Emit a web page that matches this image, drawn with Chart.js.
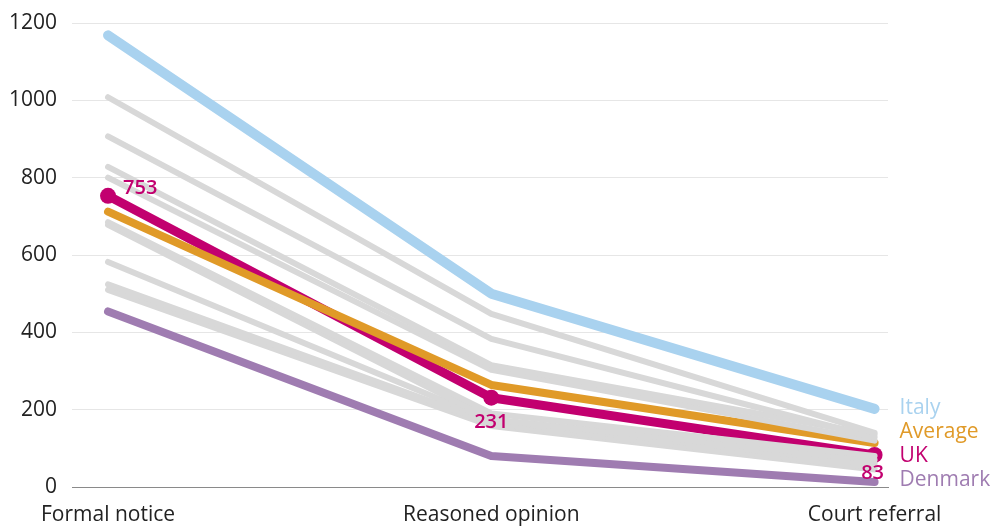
<!DOCTYPE html>
<html>
<head>
<meta charset="utf-8">
<script src="https://cdn.jsdelivr.net/npm/chart.js@4/dist/chart.umd.min.js"></script>
<style>
  html, body { margin: 0; padding: 0; background: #ffffff; }
  #wrap { width: 994px; height: 527px; position: relative; }
</style>
</head>
<body>
<div id="wrap"><canvas id="chart"></canvas></div>
<script>
// Infringement procedure stages
const stages = ['Formal notice', 'Reasoned opinion', 'Court referral'];

// Highlighted series
const italy   = [1168, 500, 202];
const average = [712, 264, 114];
const uk      = [753, 231, 83];
const denmark = [454, 80, 13];

// Other member states (grey background lines)
const others = [
  [1008, 448, 140],
  [907, 383, 128],
  [828, 315, 135],
  [800, 303, 120],
  [685, 190, 80],
  [678, 175, 70],
  [582, 172, 60],
  [524, 165, 50],
  [510, 158, 45]
];

const yTicks = [0, 200, 400, 600, 800, 1000, 1200];

const FONT = "'Open Sans', 'Noto Sans', sans-serif";
const COLORS = {
  italy: '#a9d2ef',
  average: '#e09a28',
  uk: '#c2006f',
  denmark: '#9f7cb1',
  grey: '#d8d8d8'
};

const toXY = arr => arr.map((v, i) => ({ x: i, y: v }));

const datasets = [];
others.forEach(vals => {
  datasets.push({
    data: toXY(vals), borderColor: COLORS.grey, borderWidth: 6,
    pointRadius: 0, borderCapStyle: 'round', borderJoinStyle: 'round'
  });
});
datasets.push({ label: 'Italy', data: toXY(italy), borderColor: COLORS.italy, borderWidth: 10,
  pointRadius: 0, borderCapStyle: 'round', borderJoinStyle: 'round' });
datasets.push({ label: 'Denmark', data: toXY(denmark), borderColor: COLORS.denmark, borderWidth: 8,
  pointRadius: 0, borderCapStyle: 'round', borderJoinStyle: 'round' });
datasets.push({ label: 'Average', data: toXY(average), borderColor: COLORS.average, borderWidth: 8,
  pointRadius: 0, borderCapStyle: 'round', borderJoinStyle: 'round' });
datasets.push({ label: 'UK', data: toXY(uk), borderColor: COLORS.uk, borderWidth: 9,
  pointRadius: 8, pointBackgroundColor: COLORS.uk, pointBorderWidth: 0,
  borderCapStyle: 'round', borderJoinStyle: 'round' });

// Series names at the right and value labels on the UK line
const labelPlugin = {
  id: 'seriesLabels',
  afterDatasetsDraw(chart) {
    const { ctx, scales: { x, y } } = chart;
    ctx.save();
    ctx.font = `21px ${FONT}`;
    ctx.textAlign = 'left';
    ctx.textBaseline = 'middle';
    const xr = x.getPixelForValue(2) + 25;
    const names = [
      ['Italy', COLORS.italy],
      ['Average', COLORS.average],
      ['UK', COLORS.uk],
      ['Denmark', COLORS.denmark]
    ];
    const rowY = [408, 432, 456, 480];
    names.forEach((n, i) => {
      ctx.fillStyle = n[1];
      ctx.fillText(n[0], xr, rowY[i]);
    });

    ctx.fillStyle = COLORS.uk;
    ctx.font = `600 20px ${FONT}`;
    ctx.textAlign = 'left';
    ctx.fillText(String(uk[0]), x.getPixelForValue(0) + 15, y.getPixelForValue(uk[0]) - 8);
    ctx.textAlign = 'center';
    ctx.fillText(String(uk[1]), x.getPixelForValue(1), y.getPixelForValue(uk[1]) + 25);
    ctx.fillText(String(uk[2]), x.getPixelForValue(2) - 2, y.getPixelForValue(uk[2]) + 18);
    ctx.restore();
  }
};

// Keep the plot area edges fixed instead of reserving room for edge labels
const noEdgePadding = s => {
  s.paddingLeft = 0; s.paddingRight = 0; s.paddingTop = 0; s.paddingBottom = 0;
};

new Chart(document.getElementById('chart'), {
  type: 'line',
  data: { datasets },
  plugins: [labelPlugin],
  options: {
    responsive: true,
    maintainAspectRatio: false,
    animation: false,
    layout: { padding: { left: 10, right: 106, top: 23, bottom: 0 } },
    plugins: { legend: { display: false }, tooltip: { enabled: false } },
    scales: {
      x: {
        type: 'linear',
        min: -0.094,
        max: 2.035,
        afterBuildTicks: s => { s.ticks = stages.map((_, i) => ({ value: i })); },
        afterFit: s => { noEdgePadding(s); s.height = 40; },
        ticks: {
          callback: v => stages[v],
          color: '#222',
          font: { family: FONT, size: 21 },
          padding: 15,
          maxRotation: 0,
          autoSkip: false
        },
        grid: { display: false, drawTicks: false },
        border: { display: true, color: '#8a8a8a', width: 1 }
      },
      y: {
        min: 0,
        max: 1200,
        afterBuildTicks: s => { s.ticks = yTicks.map(v => ({ value: v })); },
        afterFit: s => { noEdgePadding(s); s.width = 62; },
        ticks: {
          callback: v => String(v),
          color: '#222',
          font: { family: FONT, size: 21 },
          padding: 15
        },
        grid: {
          drawTicks: false,
          color: c => c.tick && c.tick.value === 0 ? '#8a8a8a' : '#e6e6e6',
          lineWidth: 1
        },
        border: { display: false }
      }
    }
  }
});
</script>
</body>
</html>
